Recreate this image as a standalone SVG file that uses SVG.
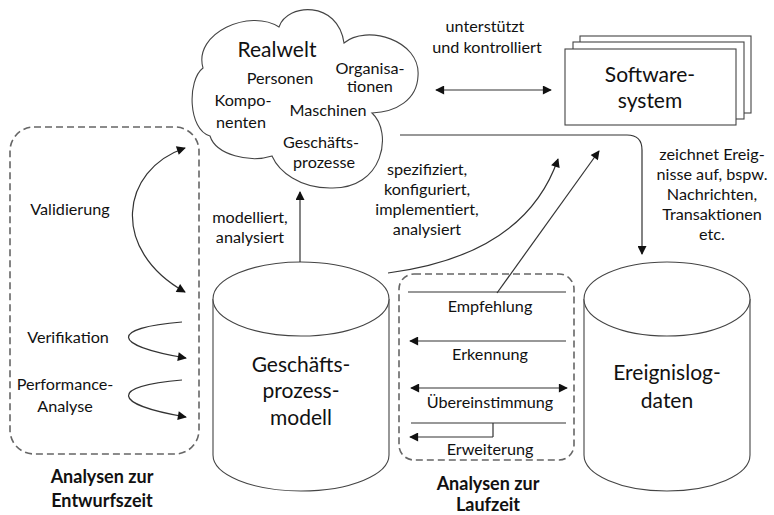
<svg xmlns="http://www.w3.org/2000/svg" width="774" height="515" viewBox="0 0 774 515">
  <style>
    text { font-family: Lato, "Open Sans", "Liberation Sans", sans-serif; fill: #111; text-anchor: middle; }
    .s { font-size: 16.2px; }
    .l { font-size: 21px; }
    .b { font-size: 18px; font-weight: bold; }
    .shape { fill: #fff; stroke: #444; stroke-width: 1.1; }
    .dash { fill: none; stroke: #666; stroke-width: 1.6; stroke-dasharray: 7 4; }
    .edge { fill: none; stroke: #333; stroke-width: 1.2; }
    .arr { marker-end: url(#head); }
    .both { marker-start: url(#head); marker-end: url(#head); }
  </style>
  <defs>
    <marker id="head" viewBox="0 0 10 10" refX="9" refY="5" markerWidth="11" markerHeight="9" markerUnits="userSpaceOnUse" orient="auto-start-reverse">
      <path d="M0,0 L10,5 L0,10 Z" fill="#111"/>
    </marker>
  </defs>

  <rect width="774" height="515" fill="#fff"/>

  <!-- design-time analyses frame -->
  <g id="entwurfszeit">
    <rect class="dash" x="10" y="127" width="189" height="327" rx="24"/>
    <text class="s" x="70" y="215">Validierung</text>
    <text class="s" x="68" y="343">Verifikation</text>
    <text class="s" x="65" y="390">Performance-</text>
    <text class="s" x="65" y="412">Analyse</text>
    <text class="b" x="102" y="483">Analysen zur</text>
    <text class="b" x="102" y="507">Entwurfszeit</text>
  </g>

  <!-- real world cloud -->
  <g id="realwelt">
    <path class="shape" d="M203,68 C193,33 250,8 279,27 C287,3 338,0 344,43 C366,24 421,40 418,76 C417,100 396,112 372,113 C393,132 384,190 330,188 C300,188 279,172 272,156 C250,163 216,155 210,136 C188,130 187,80 203,68 Z"/>
    <text class="l" x="277" y="57">Realwelt</text>
    <text class="s" x="280" y="84">Personen</text>
    <text class="s" x="370" y="74">Organisa-</text>
    <text class="s" x="370" y="92">tionen</text>
    <text class="s" x="243" y="106">Kompo-</text>
    <text class="s" x="241" y="128">nenten</text>
    <text class="s" x="328" y="116">Maschinen</text>
    <text class="s" x="321" y="148">Geschäfts-</text>
    <text class="s" x="324" y="168">prozesse</text>
  </g>

  <!-- software system (stacked) -->
  <g id="softwaresystem">
    <rect class="shape" x="580" y="36" width="171" height="77"/>
    <rect class="shape" x="573" y="42" width="171" height="77"/>
    <rect class="shape" x="565" y="49" width="171" height="76"/>
    <text class="l" x="650" y="82">Software-</text>
    <text class="l" x="650" y="108">system</text>
  </g>

  <!-- process model store -->
  <g id="prozessmodell">
    <path class="shape" d="M213,299 L213,455 A88,36 0 0 0 389,455 L389,299"/>
    <ellipse class="shape" cx="301" cy="299" rx="88" ry="37"/>
    <text class="l" x="301" y="372">Geschäfts-</text>
    <text class="l" x="301" y="398">prozess-</text>
    <text class="l" x="301" y="425">modell</text>
  </g>

  <!-- event log store -->
  <g id="ereignislog">
    <path class="shape" d="M584,299 L584,455 A83,36 0 0 0 750,455 L750,299"/>
    <ellipse class="shape" cx="667" cy="299" rx="83" ry="37"/>
    <text class="l" x="667" y="380">Ereignislog-</text>
    <text class="l" x="667" y="408">daten</text>
  </g>

  <!-- run-time analyses frame -->
  <g id="laufzeit">
    <rect class="dash" x="399" y="274" width="175" height="186" rx="15"/>
    <text class="s" x="490" y="312">Empfehlung</text>
    <text class="s" x="490" y="360">Erkennung</text>
    <text class="s" x="490" y="408">Übereinstimmung</text>
    <text class="s" x="490" y="455">Erweiterung</text>
    <text class="b" x="488" y="490">Analysen zur</text>
    <text class="b" x="488" y="511">Laufzeit</text>
  </g>

  <!-- connectors -->
  <g id="connectors">
    <path class="edge both" d="M185,148 C120,170 110,250 185,292"/>
    <path class="edge arr" d="M182,322 C110,328 110,345 186,358"/>
    <path class="edge arr" d="M182,380 C110,386 110,404 186,417"/>
    <path class="edge arr" d="M300,262 L300,192"/>
    <path class="edge both" d="M436,90 L551,90"/>
    <path class="edge arr" d="M400,135 L627,135 Q642,135 642,150 L642,254"/>
    <path class="edge arr" d="M388,273 Q525,255 558,159"/>
    <path class="edge arr" d="M497,293 L599,151"/>
    <path class="edge" d="M408,292 L566,292"/>
    <path class="edge arr" d="M566,341 L410,341"/>
    <path class="edge both" d="M411,388 L567,388"/>
    <path class="edge" d="M411,423 L566,423 M493,423 L493,437"/>
    <path class="edge arr" d="M493,437 L410,437"/>
  </g>

  <!-- edge captions -->
  <g id="captions">
    <text class="s" x="485" y="32">unterstützt</text>
    <text class="s" x="487" y="53">und kontrolliert</text>
    <text class="s" x="250" y="223">modelliert,</text>
    <text class="s" x="250" y="243">analysiert</text>
    <text class="s" x="427" y="175">spezifiziert,</text>
    <text class="s" x="427" y="195">konfiguriert,</text>
    <text class="s" x="427" y="215">implementiert,</text>
    <text class="s" x="427" y="235">analysiert</text>
    <text class="s" x="712" y="160">zeichnet Ereig-</text>
    <text class="s" x="712" y="180">nisse auf, bspw.</text>
    <text class="s" x="712" y="200">Nachrichten,</text>
    <text class="s" x="712" y="220">Transaktionen</text>
    <text class="s" x="712" y="240">etc.</text>
  </g>
</svg>
